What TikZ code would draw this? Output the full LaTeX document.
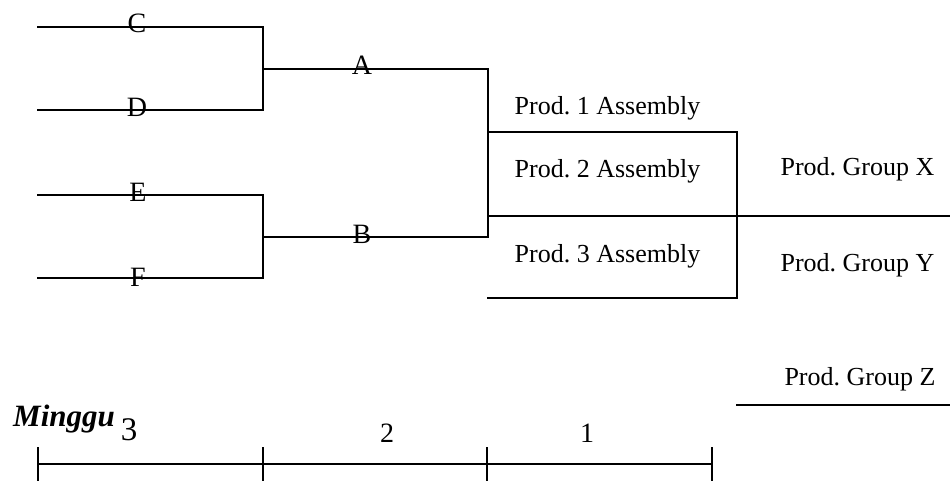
\documentclass[tikz,border=0pt]{standalone}
\usepackage{fontspec}
\setmainfont{Liberation Serif}
\frenchspacing
\begin{document}
\begin{tikzpicture}[x=1pt,y=-1pt,
  bar/.style={line width=2pt, line cap=rect},
  tickline/.style={line width=1.5pt},
  lbl/.style={anchor=base, inner sep=0pt, font=\fontsize{28}{30}\selectfont},
  txt/.style={anchor=base, inner sep=0pt, font=\fontsize{26}{28}\selectfont}]
\useasboundingbox (0,0) rectangle (950,481);
% coordinates of the bracket tree
\coordinate (c0) at (38,27);  \coordinate (c1) at (263,27);
\coordinate (d0) at (38,110); \coordinate (d1) at (263,110);
\coordinate (e0) at (38,195); \coordinate (e1) at (263,195);
\coordinate (f0) at (38,278); \coordinate (f1) at (263,278);
\coordinate (a0) at (263,69); \coordinate (a1) at (488,69);
\coordinate (b0) at (263,237); \coordinate (b1) at (488,237);
\coordinate (p1) at (488,132); \coordinate (p1e) at (737,132);
\coordinate (p2) at (488,216); \coordinate (p2e) at (950,216);
\coordinate (p3) at (488,298); \coordinate (p3e) at (737,298);
\coordinate (z0) at (737,405); \coordinate (z1) at (950,405);
\coordinate (t0) at (38,464); \coordinate (t1) at (263,464);
\coordinate (t2) at (487,464); \coordinate (t3) at (712,464);
% bracket lines
\draw[bar] (c0) -- (c1) -- (d1) -- (d0);
\draw[bar] (e0) -- (e1) -- (f1) -- (f0);
\draw[bar] (a0) -- (a1) -- (b1) -- (b0);
\draw[bar] (p1) -- (p1e) -- (p3e) -- (p3);
\draw[bar] (p2) -- (p2e);
\draw[bar] (z0) -- (z1);
% time axis
\draw[tickline] (t0) -- (t3);
\foreach \t in {t0,t1,t2,t3} \draw[tickline] ([yshift=-21pt]\t) -- ([yshift=17pt]\t);
% labels
\node[lbl] (C) at (137,33) {C};
\node[lbl] (D) at (137,117) {D};
\node[lbl] (E) at (138,202) {E};
\node[lbl] (F) at (138,286) {F};
\node[lbl] (A) at (362,75) {A};
\node[lbl] (B) at (362,243) {B};
\node[txt] (pa1) at (607.5,115) {Prod. 1 Assembly};
\node[txt] (pa2) at (607.5,178) {Prod. 2 Assembly};
\node[txt] (pa3) at (607.5,262) {Prod. 3 Assembly};
\node[txt] (gx) at (857.5,176) {Prod. Group X};
\node[txt] (gy) at (857.5,271) {Prod. Group Y};
\node[txt] (gz) at (860,385) {Prod. Group Z};
\node[anchor=base west, inner sep=0pt, font=\fontsize{31}{33}\selectfont\bfseries\itshape] (mg) at (13,426) {Minggu};
\node[anchor=base, inner sep=0pt, font=\fontsize{33}{35}\selectfont] (w3) at (129,440) {3};
\node[lbl] (w2) at (387,442) {2};
\node[lbl] (w1) at (587,442) {1};
\end{tikzpicture}
\end{document}
